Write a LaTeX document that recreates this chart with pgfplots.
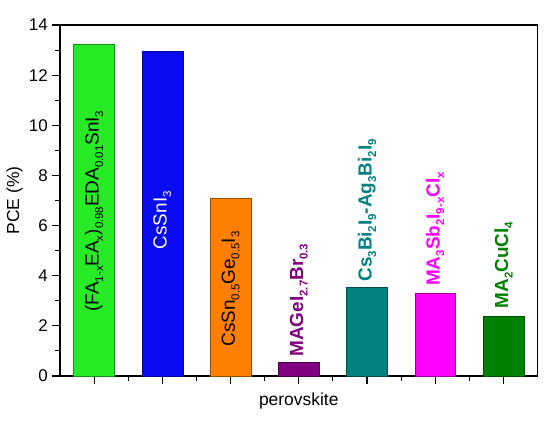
\documentclass[border=0pt]{standalone}
\usepackage{pgfplots}
\pgfplotsset{compat=1.18}
\usepackage{fontspec}
\setmainfont{Liberation Sans}
\newcommand\s[1]{\raisebox{-0.45ex}{\fontsize{11.5}{12}\selectfont #1}}
\newcommand\lab{\fontsize{19}{22}\selectfont}

\definecolor{c1}{RGB}{40,235,40}
\definecolor{c2}{RGB}{10,10,240}
\definecolor{c3}{RGB}{255,128,0}
\definecolor{c4}{RGB}{128,0,128}
\definecolor{c5}{RGB}{0,128,128}
\definecolor{c6}{RGB}{255,0,255}
\definecolor{c7}{RGB}{0,128,0}

\begin{document}
\begin{tikzpicture}
\useasboundingbox (-60bp,-47bp) rectangle (490bp,376bp);
\begin{axis}[
  scale only axis,
  width=477.5bp, height=351bp,
  xmin=0.5, xmax=7.5,
  ymin=0, ymax=14,
  xtick={1,...,7}, xticklabels={},
  minor xtick={1.5,2.5,...,6.5},
  ytick={0,2,...,14},
  minor ytick={1,3,...,13},
  tick align=outside,
  xtick pos=lower, ytick pos=left,
  major tick length=8bp, minor tick length=5bp,
  axis line style={line width=1.2pt},
  every tick/.style={line width=1.1pt, black},
  tick label style={font=\fontsize{17}{19}\selectfont},
  /pgf/number format/assume math mode=true,
  yticklabel style={inner sep=0pt, xshift=-4bp},
  xlabel={perovskite},
  ylabel={PCE (\%)},
  label style={font=\fontsize{17.5}{20}\selectfont},
  xlabel style={at={(rel axis cs:0.5,0)}, anchor=north, inner sep=0pt, yshift=-17bp},
  ylabel style={at={(rel axis cs:0,0.5)}, anchor=south, inner sep=0pt, yshift=37bp},
  clip=false,
]
\addplot[ybar, bar width=0.6, fill=c1, draw=c1!60!black] coordinates {(1,13.23)};
\addplot[ybar, bar width=0.6, fill=c2, draw=c2!60!black] coordinates {(2,12.95)};
\addplot[ybar, bar width=0.6, fill=c3, draw=c3!60!black] coordinates {(3,7.09)};
\addplot[ybar, bar width=0.6, fill=c4, draw=c4!60!black] coordinates {(4,0.55)};
\addplot[ybar, bar width=0.6, fill=c5, draw=c5!60!black] coordinates {(5,3.56)};
\addplot[ybar, bar width=0.6, fill=c6, draw=c6!60!black] coordinates {(6,3.32)};
\addplot[ybar, bar width=0.6, fill=c7, draw=c7!60!black] coordinates {(7,2.39)};

\node[rotate=90, anchor=west, inner sep=0pt, font=\lab] at (axis cs:1,2.56)
  {(FA\s{1-x}EA\s{x})\s{0.98}EDA\s{0.01}SnI\s{3}};
\node[rotate=90, anchor=west, inner sep=0pt, font=\lab, text=white] at (axis cs:2,5.05)
  {CsSnI\s{3}};
\node[rotate=90, anchor=west, inner sep=0pt, font=\lab] at (axis cs:3,1.17)
  {CsSn\s{0.5}Ge\s{0.5}I\s{3}};
\node[rotate=90, anchor=west, inner sep=0pt, font=\lab\bfseries, text=c4] at (axis cs:4,0.77)
  {MAGeI\s{\bfseries 2.7}Br\s{\bfseries 0.3}};
\node[rotate=90, anchor=west, inner sep=0pt, font=\lab\bfseries, text=c5] at (axis cs:5,3.76)
  {Cs\s{\bfseries 3}Bi\s{\bfseries 2}I\s{\bfseries 9}-Ag\s{\bfseries 3}Bi\s{\bfseries 2}I\s{\bfseries 9}};
\node[rotate=90, anchor=west, inner sep=0pt, font=\lab\bfseries, text=c6] at (axis cs:6,3.59)
  {MA\s{\bfseries 3}Sb\s{\bfseries 2}I\s{\bfseries 9-x}Cl\s{\bfseries x}};
\node[rotate=90, anchor=west, inner sep=0pt, font=\lab\bfseries, text=c7] at (axis cs:7,2.70)
  {MA\s{\bfseries 2}CuCl\s{\bfseries 4}};
\end{axis}
\end{tikzpicture}
\end{document}
